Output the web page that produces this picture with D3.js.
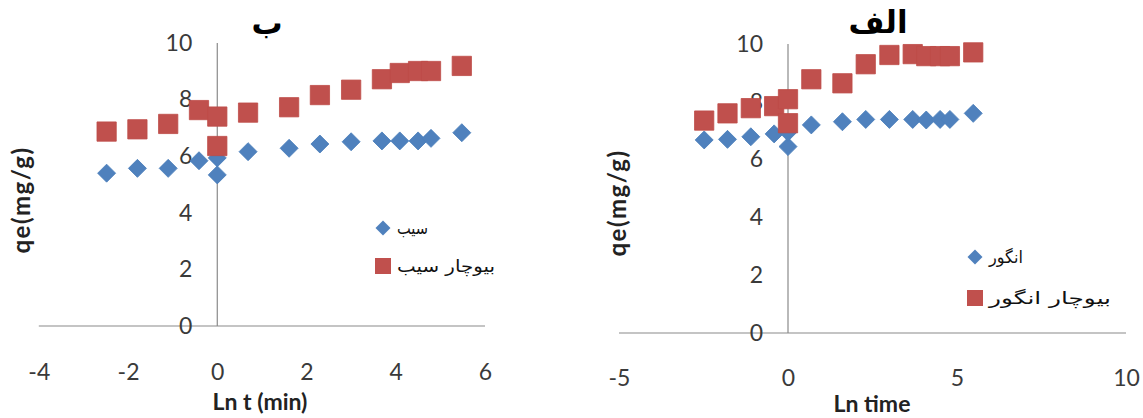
<!DOCTYPE html>
<html>
<head>
<meta charset="utf-8">
<script src="https://cdn.jsdelivr.net/npm/d3@7"></script>
<style>
  html, body { margin: 0; padding: 0; background: #fff; }
  svg { display: block; }
</style>
</head>
<body>
<svg id="chart" width="1143" height="418"></svg>
<script>
// ln(t) of the sampling times (min); t = 1 min was measured twice
const lnTime = [-2.48, -1.79, -1.10, -0.41, 0, 0, 0.69, 1.61, 2.30, 3.00, 3.69, 4.09, 4.50, 4.79, 5.48];

// Panel "ب": apple and apple biochar
const appleQe        = [5.40, 5.57, 5.57, 5.84, 5.34, 5.94, 6.16, 6.28, 6.43, 6.51, 6.54, 6.54, 6.54, 6.63, 6.83];
const appleBiocharQe = [6.87, 6.95, 7.14, 7.63, 7.40, 6.36, 7.54, 7.73, 8.16, 8.35, 8.72, 8.94, 9.01, 9.01, 9.19];

// Panel "الف": grape and grape biochar
const grapeQe        = [6.68, 6.70, 6.79, 6.89, 6.45, 6.95, 7.20, 7.31, 7.39, 7.39, 7.39, 7.37, 7.39, 7.39, 7.60];
const grapeBiocharQe = [7.35, 7.60, 7.78, 7.85, 8.09, 7.26, 8.78, 8.64, 9.30, 9.62, 9.65, 9.58, 9.58, 9.58, 9.71];

// Axis ticks
const leftXTicks  = [-4, -2, 0, 2, 4, 6];
const rightXTicks = [-5, 0, 5, 10];
const yTicks      = [0, 2, 4, 6, 8, 10];

// Labels
const appleNames = ["سیب", "بیوچار سیب"];
const grapeNames = ["انگور", "بیوچار انگور"];

const BLUE = "#4F81BD", BLUE_EDGE = "#4A7EBB";
const RED = "#C0504D", RED_EDGE = "#BE4B48";
const NUM_FONT = "Lato, 'Open Sans', sans-serif";
const AR_FONT = "'DejaVu Sans', sans-serif";

const svg = d3.select("#chart");

// Excel-style diamond: a square turned by 45 degrees
const squarePath = size => d3.symbol().type(d3.symbolSquare).size(size)();

function drawPanel(cfg) {
  const x = d3.scaleLinear().domain(cfg.xDomain).range(cfg.xRange);
  const y = d3.scaleLinear().domain([0, 10]).range(cfg.yRange);
  const g = svg.append("g");

  // axis lines crossing at the origin
  g.append("line")
    .attr("x1", x(cfg.xDomain[0])).attr("x2", x(cfg.xDomain[1]))
    .attr("y1", y(0)).attr("y2", y(0))
    .attr("stroke", "#8a8a8a").attr("stroke-width", 1.2);
  g.append("line")
    .attr("x1", x(0)).attr("x2", x(0))
    .attr("y1", y(0)).attr("y2", y(10))
    .attr("stroke", "#8a8a8a").attr("stroke-width", 1.2);

  // x tick labels sit low, below the plot
  const xAxis = g.append("g")
    .attr("transform", `translate(0,${cfg.xLabelY})`)
    .call(d3.axisBottom(x).tickValues(cfg.xTicks).tickSize(0).tickPadding(0).tickFormat(d => String(d)));
  xAxis.select(".domain").remove();
  xAxis.selectAll("text")
    .attr("dy", "0.35em")
    .style("font-family", NUM_FONT).style("font-size", "23px").attr("fill", "#3a3a3a");

  // y tick labels next to the vertical axis
  const yAxis = g.append("g")
    .attr("transform", `translate(${x(0)},0)`)
    .call(d3.axisLeft(y).tickValues(yTicks).tickSize(0).tickPadding(25).tickFormat(d => String(d)));
  yAxis.select(".domain").remove();
  yAxis.selectAll("text")
    .style("font-family", NUM_FONT).style("font-size", "23px").attr("fill", "#3a3a3a");

  // series: raw first, biochar on top
  g.append("g").selectAll("path")
    .data(lnTime.map((t, i) => [t, cfg.raw[i]]))
    .join("path")
    .attr("d", squarePath(162))
    .attr("transform", d => `translate(${x(d[0])},${y(d[1])}) rotate(45)`)
    .attr("fill", BLUE).attr("stroke", BLUE_EDGE).attr("stroke-width", 0.8);

  g.append("g").selectAll("path")
    .data(lnTime.map((t, i) => [t, cfg.biochar[i]]))
    .join("path")
    .attr("d", squarePath(372))
    .attr("transform", d => `translate(${x(d[0])},${y(d[1])})`)
    .attr("fill", RED).attr("stroke", RED_EDGE).attr("stroke-width", 0.8);

  // chart title
  g.append("text")
    .attr("x", cfg.titleX).attr("y", cfg.titleY)
    .attr("text-anchor", "middle")
    .style("font-family", AR_FONT).style("font-weight", "bold").style("font-size", "31px")
    .attr("fill", "#000")
    .text(cfg.title);

  // axis titles
  g.append("text")
    .attr("x", cfg.xTitleX).attr("y", cfg.xTitleY)
    .attr("text-anchor", "middle")
    .style("font-family", NUM_FONT).style("font-weight", "bold").style("font-size", "23px")
    .attr("fill", "#222")
    .text(cfg.xTitle);

  g.append("text")
    .attr("transform", `translate(${cfg.yTitleX},${cfg.yTitleY}) rotate(-90)`)
    .attr("text-anchor", "middle")
    .style("font-family", NUM_FONT).style("font-weight", "bold").style("font-size", "24px")
    .style("letter-spacing", "1.5px")
    .attr("fill", "#222")
    .text("qe(mg/g)");

  // legend
  const lg = g.append("g").attr("transform", `translate(${cfg.legendX},${cfg.legendY})`);
  lg.append("path")
    .attr("d", squarePath(112))
    .attr("transform", "rotate(45)")
    .attr("fill", BLUE);
  lg.append("path")
    .attr("d", squarePath(256))
    .attr("transform", `translate(0,${cfg.legendGap})`)
    .attr("fill", RED);
  lg.selectAll("text")
    .data(cfg.names)
    .join("text")
    .attr("x", 14).attr("y", (d, i) => i * cfg.legendGap)
    .attr("dy", "0.35em")
    .attr("textLength", (d, i) => cfg.legendWidths[i])
    .attr("lengthAdjust", "spacingAndGlyphs")
    .style("font-family", AR_FONT).style("font-size", "17px")
    .attr("fill", "#111")
    .text(d => d);
}

drawPanel({
  xDomain: [-4, 6], xRange: [38.8, 485], yRange: [326, 43],
  xTicks: leftXTicks, xLabelY: 372,
  raw: appleQe, biochar: appleBiocharQe,
  title: "ب", titleX: 267, titleY: 34,
  xTitle: "Ln t (min)", xTitleX: 260, xTitleY: 410,
  yTitleX: 30, yTitleY: 200,
  legendX: 383, legendY: 228, legendGap: 38, legendWidths: [31, 98], names: appleNames
});

drawPanel({
  xDomain: [-5, 10], xRange: [619, 1126], yRange: [333, 44],
  xTicks: rightXTicks, xLabelY: 378,
  raw: grapeQe, biochar: grapeBiocharQe,
  title: "الف", titleX: 878, titleY: 33,
  xTitle: "Ln time", xTitleX: 872, xTitleY: 412,
  yTitleX: 626, yTitleY: 203,
  legendX: 975, legendY: 257, legendGap: 41, legendWidths: [34, 122], names: grapeNames
});
</script>
</body>
</html>
